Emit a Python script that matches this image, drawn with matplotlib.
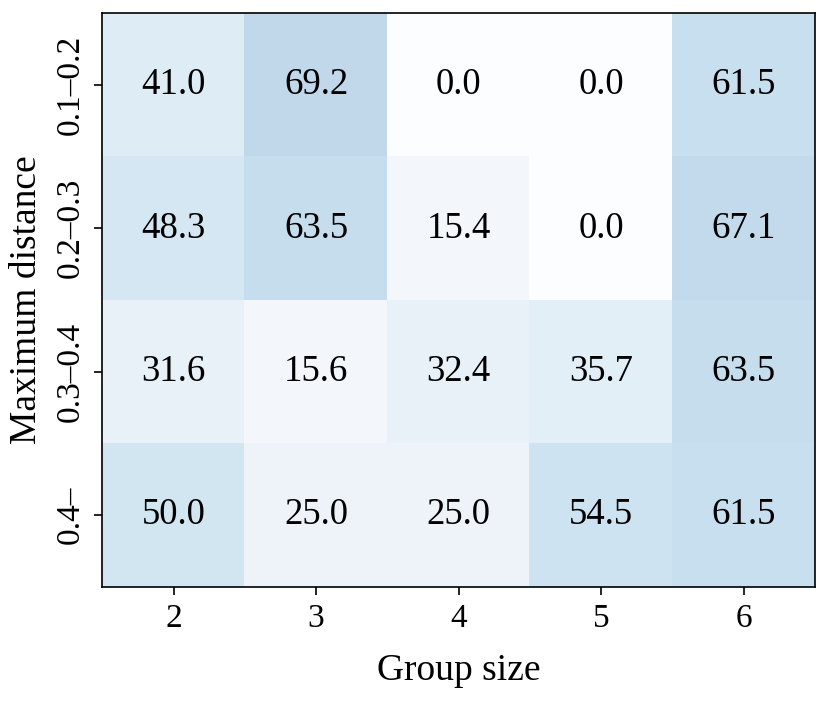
import numpy as np
import matplotlib
matplotlib.use("Agg")
import matplotlib.pyplot as plt

plt.rcParams['font.family'] = ['Liberation Serif', 'DejaVu Serif']

group_sizes = ["2", "3", "4", "5", "6"]
distances = ["0.1\u20130.2", "0.2\u20130.3", "0.3\u20130.4", "0.4\u2013"]
values = np.array([
    [41.0, 69.2, 0.0, 0.0, 61.5],
    [48.3, 63.5, 15.4, 0.0, 67.1],
    [31.6, 15.6, 32.4, 35.7, 63.5],
    [50.0, 25.0, 25.0, 54.5, 61.5],
])

fig = plt.figure(figsize=(8.31, 7.01), dpi=100)
ax = fig.add_axes([0.123, 0.163, 0.858, 0.818])
ax.imshow(values, cmap='Blues', vmin=0, vmax=100, alpha=0.3, aspect='auto')

# valeurs dans les cases
for i in range(values.shape[0]):
    for j in range(values.shape[1]):
        ax.text(j, i, f"{values[i, j]:.1f}", ha='center', va='center', fontsize=26.5)

ax.set_xticks(range(len(group_sizes)))
ax.set_xticklabels(group_sizes, fontsize=24)
ax.set_yticks(range(len(distances)))
ax.set_yticklabels(distances, fontsize=24, rotation=90, va='center')
ax.tick_params(length=6, width=1.2, pad=6)
for s in ax.spines.values():
    s.set_linewidth(1.2)
ax.set_xlabel("Group size", fontsize=27, labelpad=14)
ax.set_ylabel("Maximum distance", fontsize=27, labelpad=8)

fig.savefig("out.png", dpi=100)
